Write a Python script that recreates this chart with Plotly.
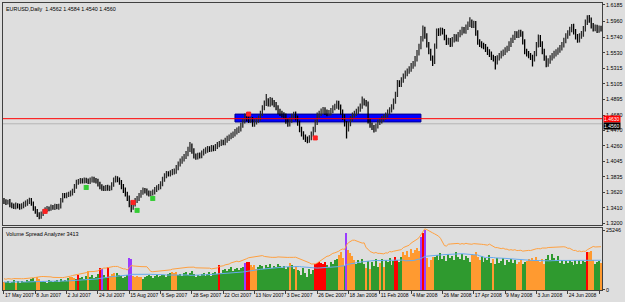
import plotly.graph_objects as go
import pandas as pd

# ---------------- data (prices in pips: 13495 -> 1.3495) ----------------
first_open = 13510
close_pips = [
    13495,13482,13490,13452,13441,13428,13446,13435,13420,13438,
    13460,13472,13495,13512,13470,13400,13362,13318,13290,13325,
    13360,13385,13402,13398,13420,13415,13432,13418,13430,13510,
    13580,13572,13590,13598,13610,13640,13702,13760,13771,13785,
    13776,13792,13780,13768,13790,13802,13785,13778,13735,13700,
    13680,13672,13690,13675,13680,13730,13790,13810,13795,13760,
    13700,13650,13600,13545,13480,13430,13470,13510,13540,13580,
    13620,13650,13640,13615,13600,13610,13625,13660,13685,13700,
    13740,13800,13850,13880,13872,13890,13905,13910,13960,14010,
    14050,14080,14110,14150,14210,14260,14190,14120,14105,14130,
    14120,14160,14185,14200,14220,14210,14235,14220,14250,14275,
    14290,14310,14300,14335,14360,14380,14400,14420,14450,14470,
    14490,14540,14600,14665,14630,14610,14620,14560,14590,14610,
    14640,14700,14780,14840,14870,14830,14880,14850,14820,14780,
    14730,14700,14680,14665,14600,14560,14610,14660,14690,14640,
    14570,14480,14420,14380,14350,14340,14370,14420,14480,14580,
    14680,14700,14730,14750,14720,14700,14710,14740,14780,14800,
    14840,14790,14720,14650,14560,14490,14560,14630,14680,14700,
    14730,14760,14800,14870,14850,14830,14600,14540,14510,14490,
    14530,14580,14600,14630,14650,14680,14720,14750,14790,14870,
    14960,15120,15100,15160,15210,15250,15280,15310,15350,15380,
    15450,15530,15615,15720,15850,15760,15640,15550,15460,15410,
    15620,15830,15800,15840,15820,15740,15680,15700,15650,15710,
    15750,15720,15780,15810,15850,15830,15880,15920,15950,15910,
    15930,15800,15680,15650,15630,15615,15580,15540,15510,15470,
    15450,15410,15460,15490,15520,15540,15570,15590,15650,15700,
    15740,15790,15770,15810,15790,15680,15550,15520,15490,15470,
    15450,15520,15640,15740,15650,15550,15460,15380,15420,15460,
    15490,15520,15540,15570,15600,15640,15700,15760,15800,15850,
    15890,15820,15750,15710,15760,15790,15860,15950,16010,15980,
    15900,15860,15880,15840,15870,15860,
]
high_pips = [
    13545,13528,13521,13530,13485,13470,13482,13475,13468,13472,
    13495,13510,13528,13550,13545,13498,13432,13395,13350,13360,
    13392,13420,13435,13430,13455,13448,13466,13462,13465,13545,
    13615,13612,13622,13630,13648,13672,13735,13795,13805,13818,
    13815,13825,13822,13812,13826,13840,13835,13818,13810,13768,
    13732,13712,13722,13725,13715,13762,13825,13848,13842,13825,
    13790,13735,13688,13632,13580,13512,13505,13545,13572,13615,
    13655,13688,13682,13675,13648,13645,13660,13695,13718,13735,
    13775,13835,13885,13915,13912,13925,13942,13948,13995,14045,
    14085,14115,14148,14188,14245,14310,14292,14225,14155,14165,
    14168,14195,14218,14238,14255,14252,14270,14265,14285,14310,
    14325,14345,14342,14370,14398,14415,14438,14455,14488,14508,
    14528,14575,14640,14700,14712,14668,14655,14652,14625,14645,
    14675,14738,14815,14878,14968,14910,14925,14918,14885,14858,
    14815,14765,14738,14718,14702,14635,14648,14698,14725,14728,
    14675,14605,14518,14458,14415,14385,14405,14455,14518,14615,
    14715,14738,14768,14790,14785,14755,14748,14775,14815,14835,
    14878,14875,14825,14755,14690,14598,14595,14665,14715,14738,
    14765,14798,14838,14935,14905,14885,14865,14635,14578,14545,
    14565,14615,14638,14668,14688,14715,14755,14788,14828,14905,
    14998,15158,15155,15198,15248,15288,15318,15348,15392,15418,
    15488,15568,15655,15762,15905,15888,15798,15678,15588,15495,
    15658,15865,15868,15878,15875,15858,15778,15738,15735,15748,
    15788,15785,15815,15848,15888,15885,15918,15958,16018,15988,
    15968,15965,15838,15715,15688,15668,15652,15615,15578,15548,
    15505,15488,15498,15528,15558,15575,15608,15628,15688,15738,
    15778,15828,15825,15848,15845,15825,15715,15588,15555,15528,
    15505,15555,15678,15782,15775,15688,15585,15495,15458,15498,
    15528,15558,15578,15605,15638,15678,15738,15798,15838,15888,
    15925,15928,15858,15788,15798,15828,15898,15988,16045,16048,
    16015,15938,15918,15915,15905,15902,
]
low_pips = [
    13462,13450,13455,13418,13405,13396,13392,13402,13385,13390,
    13405,13425,13440,13462,13438,13372,13330,13285,13255,13262,
    13298,13330,13352,13365,13370,13385,13382,13390,13385,13402,
    13485,13540,13542,13560,13565,13580,13612,13670,13728,13740,
    13742,13745,13748,13735,13738,13758,13752,13745,13702,13665,
    13645,13640,13642,13645,13640,13650,13700,13758,13762,13728,
    13665,13615,13565,13505,13420,13350,13385,13430,13478,13505,
    13548,13588,13605,13580,13565,13568,13578,13592,13628,13650,
    13665,13705,13768,13815,13838,13840,13855,13868,13878,13925,
    13975,14015,14045,14078,14115,14175,14150,14085,14068,14072,
    14085,14088,14125,14150,14165,14175,14178,14185,14188,14215,
    14240,14255,14265,14268,14300,14325,14348,14365,14388,14412,
    14435,14455,14505,14565,14595,14572,14575,14520,14518,14552,
    14575,14605,14665,14745,14805,14795,14792,14812,14785,14745,
    14692,14665,14645,14628,14562,14520,14522,14575,14622,14605,
    14532,14445,14385,14342,14312,14295,14302,14335,14385,14445,
    14545,14642,14665,14695,14682,14662,14665,14675,14705,14745,
    14765,14752,14685,14612,14522,14360,14455,14525,14595,14645,
    14665,14695,14725,14765,14812,14795,14565,14505,14475,14440,
    14452,14495,14545,14565,14592,14615,14645,14685,14715,14755,
    14835,14925,15062,15065,15122,15175,15212,15245,15272,15312,
    15345,15412,15495,15578,15685,15722,15602,15512,15422,15352,
    15378,15585,15762,15765,15782,15702,15638,15642,15612,15615,
    15672,15685,15682,15745,15772,15795,15792,15842,15885,15872,
    15872,15765,15642,15612,15592,15578,15542,15502,15472,15432,
    15412,15302,15372,15425,15452,15485,15502,15535,15555,15612,
    15665,15705,15732,15735,15752,15645,15512,15482,15455,15432,
    15345,15412,15485,15602,15612,15512,15422,15335,15342,15382,
    15425,15452,15482,15505,15532,15562,15605,15662,15722,15765,
    15812,15782,15712,15668,15672,15722,15752,15822,15912,15942,
    15865,15822,15825,15802,15805,15822,
]
volume = [
    3400,3100,3800,2900,3300,4200,3000,3600,2800,3900,
    3500,3200,4000,3700,4400,4800,3900,5200,4600,3300,
    3700,3400,3000,4100,3600,3300,3800,4200,3500,4600,
    3900,4300,3700,4900,5600,5300,4800,4400,6200,5100,
    5600,4700,5800,7900,5200,6100,4900,5500,6800,9100,
    8700,6300,5600,9500,5900,6600,7200,5400,6900,6300,
    5700,4800,5300,6200,13250,13000,5800,5600,6000,5500,
    5200,4600,5400,5900,6200,5700,5100,6000,6600,5400,
    5800,6400,6100,5500,6800,7000,7400,6900,7600,6300,
    6700,6000,6900,7500,6400,7100,8000,6600,5500,6200,
    5800,6500,7200,6000,6800,7400,5900,6900,7700,6500,
    10350,7200,8300,9000,7800,8700,9500,8100,8900,9300,
    8400,9100,9800,11200,11600,11600,10300,9800,10600,8800,
    9600,10500,9900,8700,10400,9800,11000,9300,10000,9500,
    10800,9900,9200,10200,8800,9700,11200,10300,9000,9900,
    8500,7800,6200,9200,7100,5400,8800,6600,8200,11000,
    11200,11600,11400,11000,11600,10500,9800,11800,10900,12400,
    13000,14600,15800,13500,10200,24000,17000,15500,14200,12800,
    10800,12600,11400,13200,10900,9400,12300,8700,11800,10200,
    12900,9800,11500,13000,9600,12400,11700,13400,10600,12100,
    14000,12500,11800,13900,15800,14600,16200,13800,17100,15400,
    16800,17800,16500,22300,24000,25246,13500,9600,12800,14000,
    13800,14900,12600,15600,13200,14200,12000,15100,13600,14500,
    12800,15800,14000,13100,15200,12600,14400,13500,11800,15000,
    14600,15900,13700,12500,14100,11900,13600,12400,14800,11500,
    12900,10800,13600,11400,12100,13300,10600,12500,11700,13000,
    11200,12400,10900,11800,12600,10700,11900,12200,13000,12500,
    13400,12800,13700,12300,11900,13100,10800,13200,14600,12800,
    15000,13600,12100,14300,11500,12600,10900,12000,11200,12800,
    11600,10300,12400,11100,12800,10800,12200,11600,16000,15800,
    16200,12600,10900,11800,12300,11400,
]
# VSA bar class: G=up/normal, O=weak, R=climax, P=ultra-high
vol_class = (
    "OGGGGGOGGG" "GGGGGGGOOG" "GGGGGGGGGG" "GGGGOOOGRG" "GGGOGGGGGR"
    "PGGROOOOGG" "GGGGPPOOOO" "OGGGGGGGGG" "GGGGGGOOOG" "GGGGGGGGGG"
    "GGGGGGGGGG" "RGGGGGGGGG" "GGGPRROOOO" "GGGGGGGGGG" "GGGGGGOGGO"
    "GGGGGGGGGR" "RRRRRGGGGG" "GOOOGPOOOO" "GGGGGOGOGG" "GGOGOGGGGG"
    "RRGGOOOOOO" "OOOPRPOOOO" "GGGGGGGGGG" "GGGGGGGGGO" "OOOOGGGGGG"
    "OGGGGGGGGG" "GGOOOGGOOO" "OOOOOOOGGG" "GGGGGGGGGG" "GGGGGGGGRO"
    "OOGGGO"
)
date_labels = ["17 May 2007", "8 Jun 2007", "2 Jul 2007", "24 Jul 2007", "15 Aug 2007",
               "6 Sep 2007", "28 Sep 2007", "22 Oct 2007", "13 Nov 2007", "3 Dec 2007",
               "26 Dec 2007", "18 Jan 2008", "11 Feb 2008", "4 Mar 2008", "26 Mar 2008",
               "17 Apr 2008", "9 May 2008", "3 Jun 2008", "24 Jun 2008", "16 Jul 2008"]
bars_per_label = 16
price_labels = ["1.6185", "1.5960", "1.5740", "1.5530", "1.5315", "1.5105", "1.4895",
                "1.4680", "1.4470", "1.4260", "1.4045", "1.3835", "1.3620", "1.3410", "1.3200"]
vol_labels = [0, 25246]
level_line = 1.4630
bid_line = 1.4560
zone_bars = [118, 213]
zone_prices = [1.4585, 1.4693]
sig_red_bar = [21, 66, 125, 159]
sig_red_price = [1.3363, 1.3485, 1.4693, 1.4367]
sig_green_bar = [42, 68, 76]
sig_green_price = [1.3689, 1.3376, 1.3539]
header = "EURUSD,Daily  1.4562 1.4584 1.4540 1.4560"
sub_header = "Volume Spread Analyzer 3413"

n = len(close_pips)
assert len(high_pips) == n and len(low_pips) == n and len(volume) == n and len(vol_class) == n, (
    len(high_pips), len(low_pips), len(volume), len(vol_class), n)

close = [c / 10000 for c in close_pips]
high = [h / 10000 for h in high_pips]
low = [l / 10000 for l in low_pips]
opens = [first_open / 10000] + close[:-1]
idx = list(range(n))

vs = pd.Series(volume, dtype=float)
avg_slow = vs.rolling(30, min_periods=1).mean()
avg_fast = vs.rolling(10, min_periods=1).mean() * 1.4

cmap = {"G": "#2f9a2f", "O": "#ff9a30", "R": "#ff0000", "P": "#9a3cff"}
vcolors = [cmap[k] for k in vol_class]

FONT = "Liberation Sans, Arial, sans-serif"
BG = "#dedede"
FS = 5.4

fig = go.Figure()
fig.add_trace(go.Ohlc(
    x=idx, open=opens, high=high, low=low, close=close,
    increasing=dict(line=dict(color="#2a2a2a", width=1.3)),
    decreasing=dict(line=dict(color="#000000", width=1.3)),
    tickwidth=0.12, showlegend=False, hoverinfo="skip", xaxis="x", yaxis="y"))
fig.add_trace(go.Scatter(
    x=sig_red_bar, y=sig_red_price, mode="markers",
    marker=dict(symbol="square-x", size=4, color="#ff2020", line=dict(color="#ff2020", width=1)),
    showlegend=False, hoverinfo="skip", xaxis="x", yaxis="y"))
fig.add_trace(go.Scatter(
    x=sig_green_bar, y=sig_green_price, mode="markers",
    marker=dict(symbol="square-x", size=4, color="#33cc33", line=dict(color="#33cc33", width=1)),
    showlegend=False, hoverinfo="skip", xaxis="x", yaxis="y"))

fig.add_trace(go.Bar(
    x=idx, y=volume, marker=dict(color=vcolors, line=dict(width=0)), width=0.6,
    showlegend=False, hoverinfo="skip", xaxis="x2", yaxis="y2"))
fig.add_trace(go.Scatter(
    x=idx, y=avg_slow, mode="lines", line=dict(color="#66aaee", width=1),
    showlegend=False, hoverinfo="skip", xaxis="x2", yaxis="y2"))
fig.add_trace(go.Scatter(
    x=idx, y=avg_fast, mode="lines", line=dict(color="#ffa040", width=1),
    showlegend=False, hoverinfo="skip", xaxis="x2", yaxis="y2"))

# pixel layout: plot area x 2..606, y 2..290
H_PLOT = 288.0
main_dom = [(290 - 225) / H_PLOT, 1.0]
vol_dom = [0.0, (290 - 228) / H_PLOT]
xr = [-0.5, n - 0.5]
ppx = (1.6185 - 1.3200) / 219.0

axis_common = dict(showgrid=False, zeroline=False, showline=True, mirror=True,
                   linecolor="#404040", linewidth=1)
tick_font = dict(family=FONT, size=FS, color="#000000")

fig.update_layout(
    width=625, height=302, autosize=False,
    margin=dict(l=2, r=19, t=2, b=12),
    paper_bgcolor=BG, plot_bgcolor=BG,
    bargap=0,
    xaxis=dict(domain=[0, 1], anchor="y", range=xr, showticklabels=False, ticks="",
               rangeslider=dict(visible=False), **axis_common),
    yaxis=dict(domain=main_dom, anchor="x", side="right",
               range=[1.3200 - 2 * ppx, 1.6185 + 2 * ppx],
               tickvals=[float(t) for t in price_labels], ticktext=price_labels,
               ticks="outside", ticklen=2, tickcolor="#404040", tickfont=tick_font,
               **axis_common),
    xaxis2=dict(domain=[0, 1], anchor="y2", range=xr,
                tickvals=[k * bars_per_label for k in range(len(date_labels))],
                ticktext=date_labels, ticks="outside", ticklen=3, tickcolor="#404040",
                ticklabelposition="outside right", tickangle=0,
                tickfont=dict(family=FONT, size=5.0, color="#000000"),
                **axis_common),
    yaxis2=dict(domain=vol_dom, anchor="x2", side="right", range=[0, 25246 * 1.035],
                tickvals=vol_labels, ticktext=[str(v) for v in vol_labels],
                ticks="outside", ticklen=2, tickcolor="#404040", tickfont=tick_font,
                **axis_common),
    shapes=[
        dict(type="rect", xref="x", yref="y", x0=zone_bars[0], x1=zone_bars[1],
             y0=zone_prices[0], y1=zone_prices[1], fillcolor="#0000ff",
             line=dict(color="#00008b", width=1), layer="below"),
        dict(type="line", xref="paper", yref="y", x0=0, x1=1, y0=bid_line, y1=bid_line,
             line=dict(color="#b4b4b4", width=1), layer="below"),
        dict(type="line", xref="paper", yref="y", x0=0, x1=1, y0=level_line, y1=level_line,
             line=dict(color="#ff0000", width=1), layer="above"),
    ],
    annotations=[
        dict(text=header, xref="paper", yref="paper", x=0.002, y=1.0, xanchor="left",
             yanchor="top", yshift=-1, showarrow=False,
             font=dict(family=FONT, size=FS, color="#000000")),
        dict(text=sub_header, xref="paper", yref="paper", x=0.002, y=vol_dom[1],
             xanchor="left", yanchor="top", yshift=-1, showarrow=False,
             font=dict(family=FONT, size=FS, color="#000000")),
        dict(text=f"{level_line:.4f}", xref="paper", yref="y", x=1.0, y=level_line,
             xanchor="left", yanchor="middle", xshift=1, showarrow=False,
             bgcolor="#ff0000", borderpad=0,
             font=dict(family=FONT, size=5.0, color="#ffffff")),
        dict(text=f"{bid_line:.4f}", xref="paper", yref="y", x=1.0, y=level_line,
             xanchor="left", yanchor="top", xshift=1, yshift=-3.2, showarrow=False,
             bgcolor="#000000", borderpad=0,
             font=dict(family=FONT, size=5.0, color="#ffffff")),
    ],
)

fig.write_html("out.html")
